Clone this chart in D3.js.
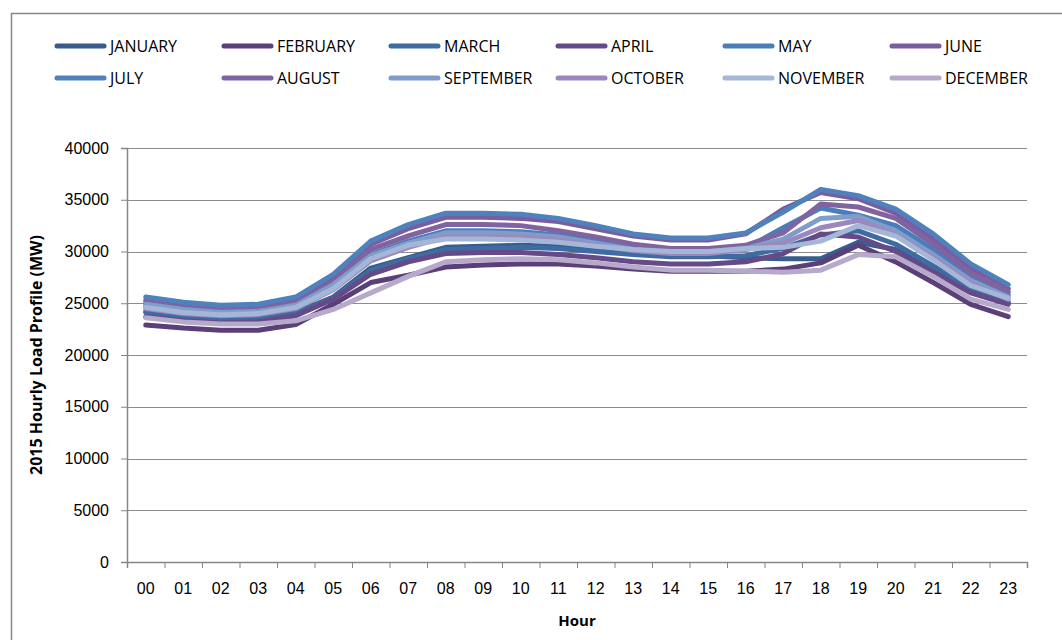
<!DOCTYPE html>
<html>
<head>
<meta charset="utf-8">
<script src="https://cdn.jsdelivr.net/npm/d3@7"></script>
<style>
  body { margin: 0; background: #fff; }
  svg { display: block; font-family: "Open Sans", sans-serif; }
  .axis path, .axis line { stroke: #868686; }
  .axis text { fill: #000; font-size: 16px; }
</style>
</head>
<body>
<div id="chart"></div>
<script>
// hourly load profile per month, 2015 (MW)
var hours = ["00","01","02","03","04","05","06","07","08","09","10","11",
             "12","13","14","15","16","17","18","19","20","21","22","23"];
var months = ["JANUARY","FEBRUARY","MARCH","APRIL","MAY","JUNE",
              "JULY","AUGUST","SEPTEMBER","OCTOBER","NOVEMBER","DECEMBER"];
var colors = ["#385d8a","#5a3f78","#3f6ba3","#664a87","#4a7ebb","#7a5da0",
              "#4f81bd","#8064a2","#7f9ccb","#9c88bc","#a4b7d8","#b6a9ca"];

var january   = [24200,23800,23600,23600,24100,25600,28400,29400,30400,30500,30600,30500,30200,29900,29700,29600,29400,29300,29300,30900,30200,28100,26300,25000];
var february  = [22900,22600,22400,22400,22950,24900,27000,27700,28500,28700,28800,28800,28600,28300,28100,28100,28100,28300,28900,30600,29000,27000,24900,23700];
var march     = [24100,23700,23500,23500,24000,25500,28200,29300,30200,30300,30400,30300,30000,29700,29500,29500,29600,30300,31600,32000,30700,28600,26500,25100];
var april     = [23700,23300,23100,23200,23800,25400,27800,29000,29800,29900,29900,29700,29400,29000,28800,28800,29000,29800,31700,31400,30000,28000,26000,24900];
var may       = [24700,24200,23900,24000,24700,26700,29700,31000,32000,32000,31900,31600,31000,30300,29900,29900,30300,32300,34200,33500,32500,30200,27500,25800];
var june      = [25300,24800,24500,24600,25300,27500,30700,32200,33300,33300,33200,32900,32200,31500,31100,31100,31700,34100,35700,35100,33700,31200,28400,26400];
var july      = [25600,25100,24800,24900,25600,27800,31000,32600,33700,33700,33600,33200,32500,31700,31300,31300,31800,33800,36000,35400,34100,31700,28800,26800];
var august    = [25100,24600,24300,24400,25000,27000,30200,31500,32600,32600,32500,32000,31400,30700,30300,30300,30600,31800,34600,34300,33200,30700,27900,26100];
var september = [24900,24400,24100,24200,24800,26800,29600,30800,31800,31800,31700,31400,30800,30200,29900,29900,30300,31200,33200,33400,32000,29700,27200,25600];
var october   = [24500,24000,23800,23900,24500,26300,29100,30400,31400,31400,31400,31100,30600,30100,29800,29800,30200,30800,32300,33000,31600,29400,26900,25400];
var november  = [24600,24100,23900,24000,24600,26400,29300,30600,31200,31200,31100,30900,30500,30200,30000,30000,30300,30400,31000,32500,31500,29200,26700,25500];
var december  = [23600,23200,23000,23000,23300,24400,26000,27600,29000,29200,29300,29200,28900,28500,28200,28200,28100,28000,28200,29700,29500,27600,25400,24400];

var yTicks = [0,5000,10000,15000,20000,25000,30000,35000,40000];

var series = [january,february,march,april,may,june,july,august,september,october,november,december]
  .map(function(v, i) { return {name: months[i], color: colors[i], values: v}; });

var W = 1062, H = 640;
var margin = {top: 148, right: 35, bottom: 78, left: 127},
    width = W - margin.left - margin.right,
    height = H - margin.top - margin.bottom;

var svg = d3.select("#chart").append("svg")
    .attr("width", W)
    .attr("height", H);

// outer chart border
svg.append("rect")
    .attr("x", 11.5).attr("y", 13.5)
    .attr("width", W).attr("height", H)
    .attr("fill", "none")
    .attr("stroke", "#868686")
    .attr("stroke-width", 1.5);

var g = svg.append("g")
    .attr("transform", "translate(" + margin.left + "," + margin.top + ")");

var x = d3.scaleBand().domain(hours).range([0, width]);
var xEdge = d3.scaleLinear().domain([0, hours.length]).range([0, width]);
var y = d3.scaleLinear().domain([0, 40000]).range([height, 0]);

// gridlines
g.append("g")
    .selectAll("line")
    .data(yTicks.slice(1))
    .enter().append("line")
    .attr("x1", 0).attr("x2", width)
    .attr("y1", function(d) { return Math.round(y(d)) + 0.5; })
    .attr("y2", function(d) { return Math.round(y(d)) + 0.5; })
    .attr("stroke", "#8c8c8c")
    .attr("stroke-width", 1.2);

// y axis
var yAxis = g.append("g")
    .attr("class", "axis axis--y")
    .call(d3.axisLeft(y).tickValues(yTicks).tickSize(6).tickPadding(12).tickFormat(d3.format("d")));
yAxis.select(".domain").attr("stroke-width", 1.5);

// x axis: tick marks on category edges, labels centred
var xTicks = g.append("g")
    .attr("class", "axis")
    .attr("transform", "translate(0," + height + ")")
    .call(d3.axisBottom(xEdge).tickValues(d3.range(hours.length + 1)).tickSize(6).tickFormat(""));
xTicks.select(".domain").attr("stroke-width", 1.5);

g.append("g")
    .attr("class", "axis axis--x")
    .attr("transform", "translate(0," + height + ")")
    .call(d3.axisBottom(x).tickSize(0).tickPadding(21))
    .call(function(s) { s.select(".domain").remove(); });

// axis titles
svg.append("text")
    .attr("x", margin.left + width / 2)
    .attr("y", 626)
    .attr("text-anchor", "middle")
    .style("font-weight", "bold")
    .style("font-size", "15px")
    .text("Hour");

svg.append("text")
    .attr("transform", "translate(42," + (margin.top + height / 2) + ") rotate(-90)")
    .attr("text-anchor", "middle")
    .style("font-weight", "bold")
    .style("font-size", "16px")
    .text("2015 Hourly Load Profile (MW)");

// lines
var line = d3.line()
    .x(function(d, i) { return x(hours[i]) + x.bandwidth() / 2; })
    .y(function(d) { return y(d); });

g.selectAll(".line")
    .data(series)
    .enter().append("path")
    .attr("class", "line")
    .attr("d", function(d) { return line(d.values); })
    .attr("fill", "none")
    .attr("stroke", function(d) { return d.color; })
    .attr("stroke-width", 5)
    .attr("stroke-linejoin", "round")
    .attr("stroke-linecap", "round");

// legend, 6 columns x 2 rows
var legendX = [110, 277, 444, 611, 778, 945],
    legendY = [46, 78];

var legend = svg.append("g").selectAll("g")
    .data(series)
    .enter().append("g")
    .attr("transform", function(d, i) {
      return "translate(" + legendX[i % 6] + "," + legendY[Math.floor(i / 6)] + ")";
    });

legend.append("line")
    .attr("x1", -53).attr("x2", -6)
    .attr("y1", 0).attr("y2", 0)
    .attr("stroke", function(d) { return d.color; })
    .attr("stroke-width", 5)
    .attr("stroke-linecap", "round");

legend.append("text")
    .attr("x", 0)
    .attr("dy", "0.35em")
    .style("font-size", "16px")
    .text(function(d) { return d.name; });
</script>
</body>
</html>
